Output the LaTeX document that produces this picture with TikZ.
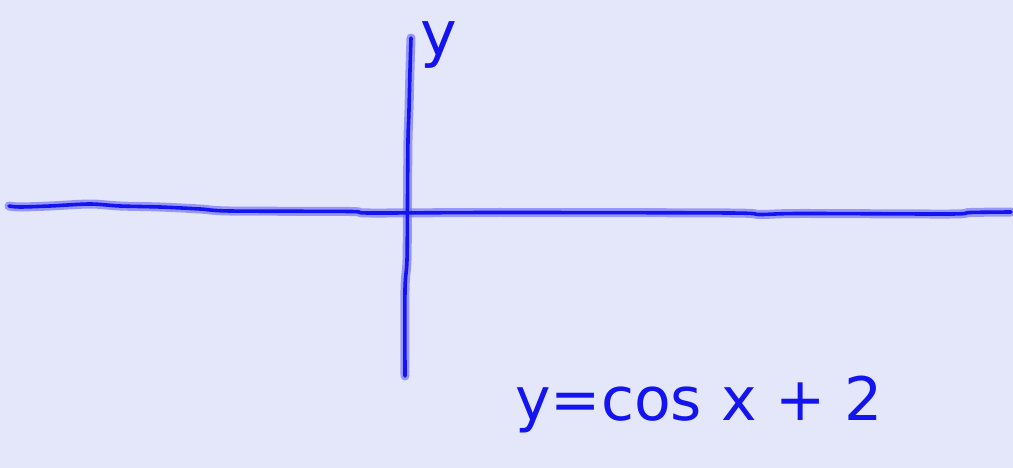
\documentclass[tikz,border=0pt]{standalone}
\usepackage{fontspec}
\setmainfont{DejaVu Sans}
\definecolor{bg}{RGB}{228,230,249}
\definecolor{ink}{RGB}{20,20,240}
\definecolor{halo}{RGB}{110,110,250}
\tikzset{
  stroke/.style={draw=ink, line width=3.6pt, line cap=round, line join=round},
  glow/.style={draw=halo, opacity=0.65, line width=9pt, line cap=round, line join=round},
  hand/.style={text=ink, inner sep=0pt, font=\fontsize{#1}{#1}\selectfont}
}
\begin{document}
\begin{tikzpicture}[x=1pt,y=-1pt]
\fill[bg] (0,0) rectangle (1013,468);
\useasboundingbox (0,0) rectangle (1013,468);
% horizontal axis
\coordinate (hL) at (9,206);
\coordinate (hR) at (1011,212);
\foreach \s in {glow,stroke}{
\draw[\s] plot[smooth, tension=0.5] coordinates {(9,206) (20,207) (50,206) (90,204) (120,206) (160,207) (200,209) (230,211) (350,211.5) (370,213) (500,212.5) (730,213) (760,214.5) (800,213.5) (950,214) (970,212.5) (1011,212)};
\draw[\s] plot[smooth, tension=0.5] coordinates {(411,38) (410,70) (409,110) (408,140) (407.5,200) (407,260) (405,290) (405,376)};
}
% labels
\node[hand=62, anchor=base west] (ylab) at (420,56) {y};
\node[hand=60, anchor=base west] (eq) at (515,420) {y=cos x + 2};
\end{tikzpicture}
\end{document}
